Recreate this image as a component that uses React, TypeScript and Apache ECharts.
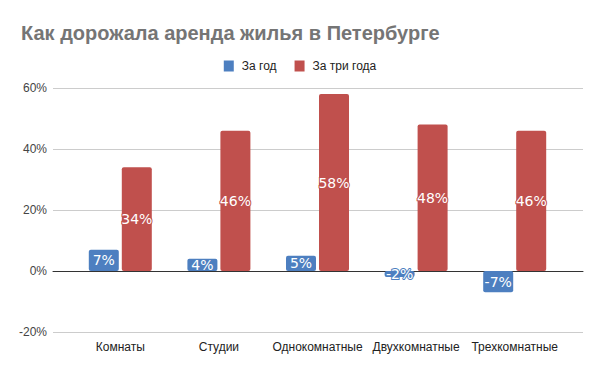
import React, { useEffect, useRef } from "react";
import * as echarts from "echarts";

const categories = ["Комнаты", "Студии", "Однокомнатные", "Двухкомнатные", "Трехкомнатные"];
const seriesNames = ["За год", "За три года"];
const yearValues = [7, 4, 5, -2, -7];
const threeYearValues = [34, 46, 58, 48, 46];
const yMin = -20;
const yMax = 60;
const yInterval = 20;

const BLUE = "#4d7fc0";
const RED = "#c0504d";

export default function App() {
  const ref = useRef<HTMLDivElement>(null);
  useEffect(() => {
    if (!ref.current) return;
    const chart = echarts.init(ref.current, undefined, { renderer: "svg" });
    const label = (color: string) => ({
      show: true,
      position: "inside",
      formatter: "{c}%",
      color: "#fff",
      fontFamily: "DejaVu Sans",
      fontSize: 14,
      textBorderColor: color,
      textBorderWidth: 2,
    });
    chart.setOption({
      animation: false,
      title: {
        text: "Как дорожала аренда жилья в Петербурге",
        left: 16,
        top: 18,
        textStyle: { fontFamily: "Liberation Sans", fontSize: 20, fontWeight: "bold", color: "#757575" },
      },
      legend: {
        data: seriesNames,
        top: 55,
        left: "center",
        icon: "rect",
        itemWidth: 10,
        itemHeight: 11,
        itemGap: 18,
        textStyle: { fontFamily: "Liberation Sans", fontSize: 12, color: "#222", padding: [0, 0, 0, 3] },
      },
      grid: [
        { left: 53, right: 17, top: 88, bottom: 39 },
        { left: 71, right: 36, top: 88, bottom: 39 },
      ],
      xAxis: [
        {
          type: "value",
          gridIndex: 0,
          min: 0,
          max: 1,
          axisLine: { show: true, onZero: true, lineStyle: { color: "#333", width: 1 } },
          axisTick: { show: false },
          axisLabel: { show: false },
          splitLine: { show: false },
        },
        {
          type: "category",
          gridIndex: 1,
          data: categories,
          axisLine: { show: false },
          axisTick: { show: false },
          axisLabel: { interval: 0, fontFamily: "Liberation Sans", fontSize: 12, color: "#222", margin: 9 },
        },
      ],
      yAxis: [
        {
          type: "value",
          gridIndex: 0,
          min: yMin,
          max: yMax,
          interval: yInterval,
          axisLabel: { formatter: "{value}%", fontFamily: "Liberation Sans", fontSize: 12, color: "#444", margin: 6 },
          axisLine: { show: false },
          axisTick: { show: false },
          splitLine: { lineStyle: { color: "#cccccc" } },
        },
        {
          type: "value",
          gridIndex: 1,
          min: yMin,
          max: yMax,
          interval: yInterval,
          show: false,
          splitLine: { show: false },
        },
      ],
      series: [
        {
          name: seriesNames[0],
          type: "bar",
          xAxisIndex: 1,
          yAxisIndex: 1,
          data: yearValues,
          barWidth: 30,
          barGap: "10%",
          itemStyle: { color: BLUE, borderRadius: 2 },
          label: label(BLUE),
        },
        {
          name: seriesNames[1],
          type: "bar",
          xAxisIndex: 1,
          yAxisIndex: 1,
          data: threeYearValues,
          barWidth: 30,
          barGap: "10%",
          itemStyle: { color: RED, borderRadius: 2 },
          label: label(RED),
        },
      ],
    });
    return () => chart.dispose();
  }, []);
  return <div ref={ref} style={{ width: 600, height: 371, position: "absolute", left: 0, top: 0 }} />;
}
